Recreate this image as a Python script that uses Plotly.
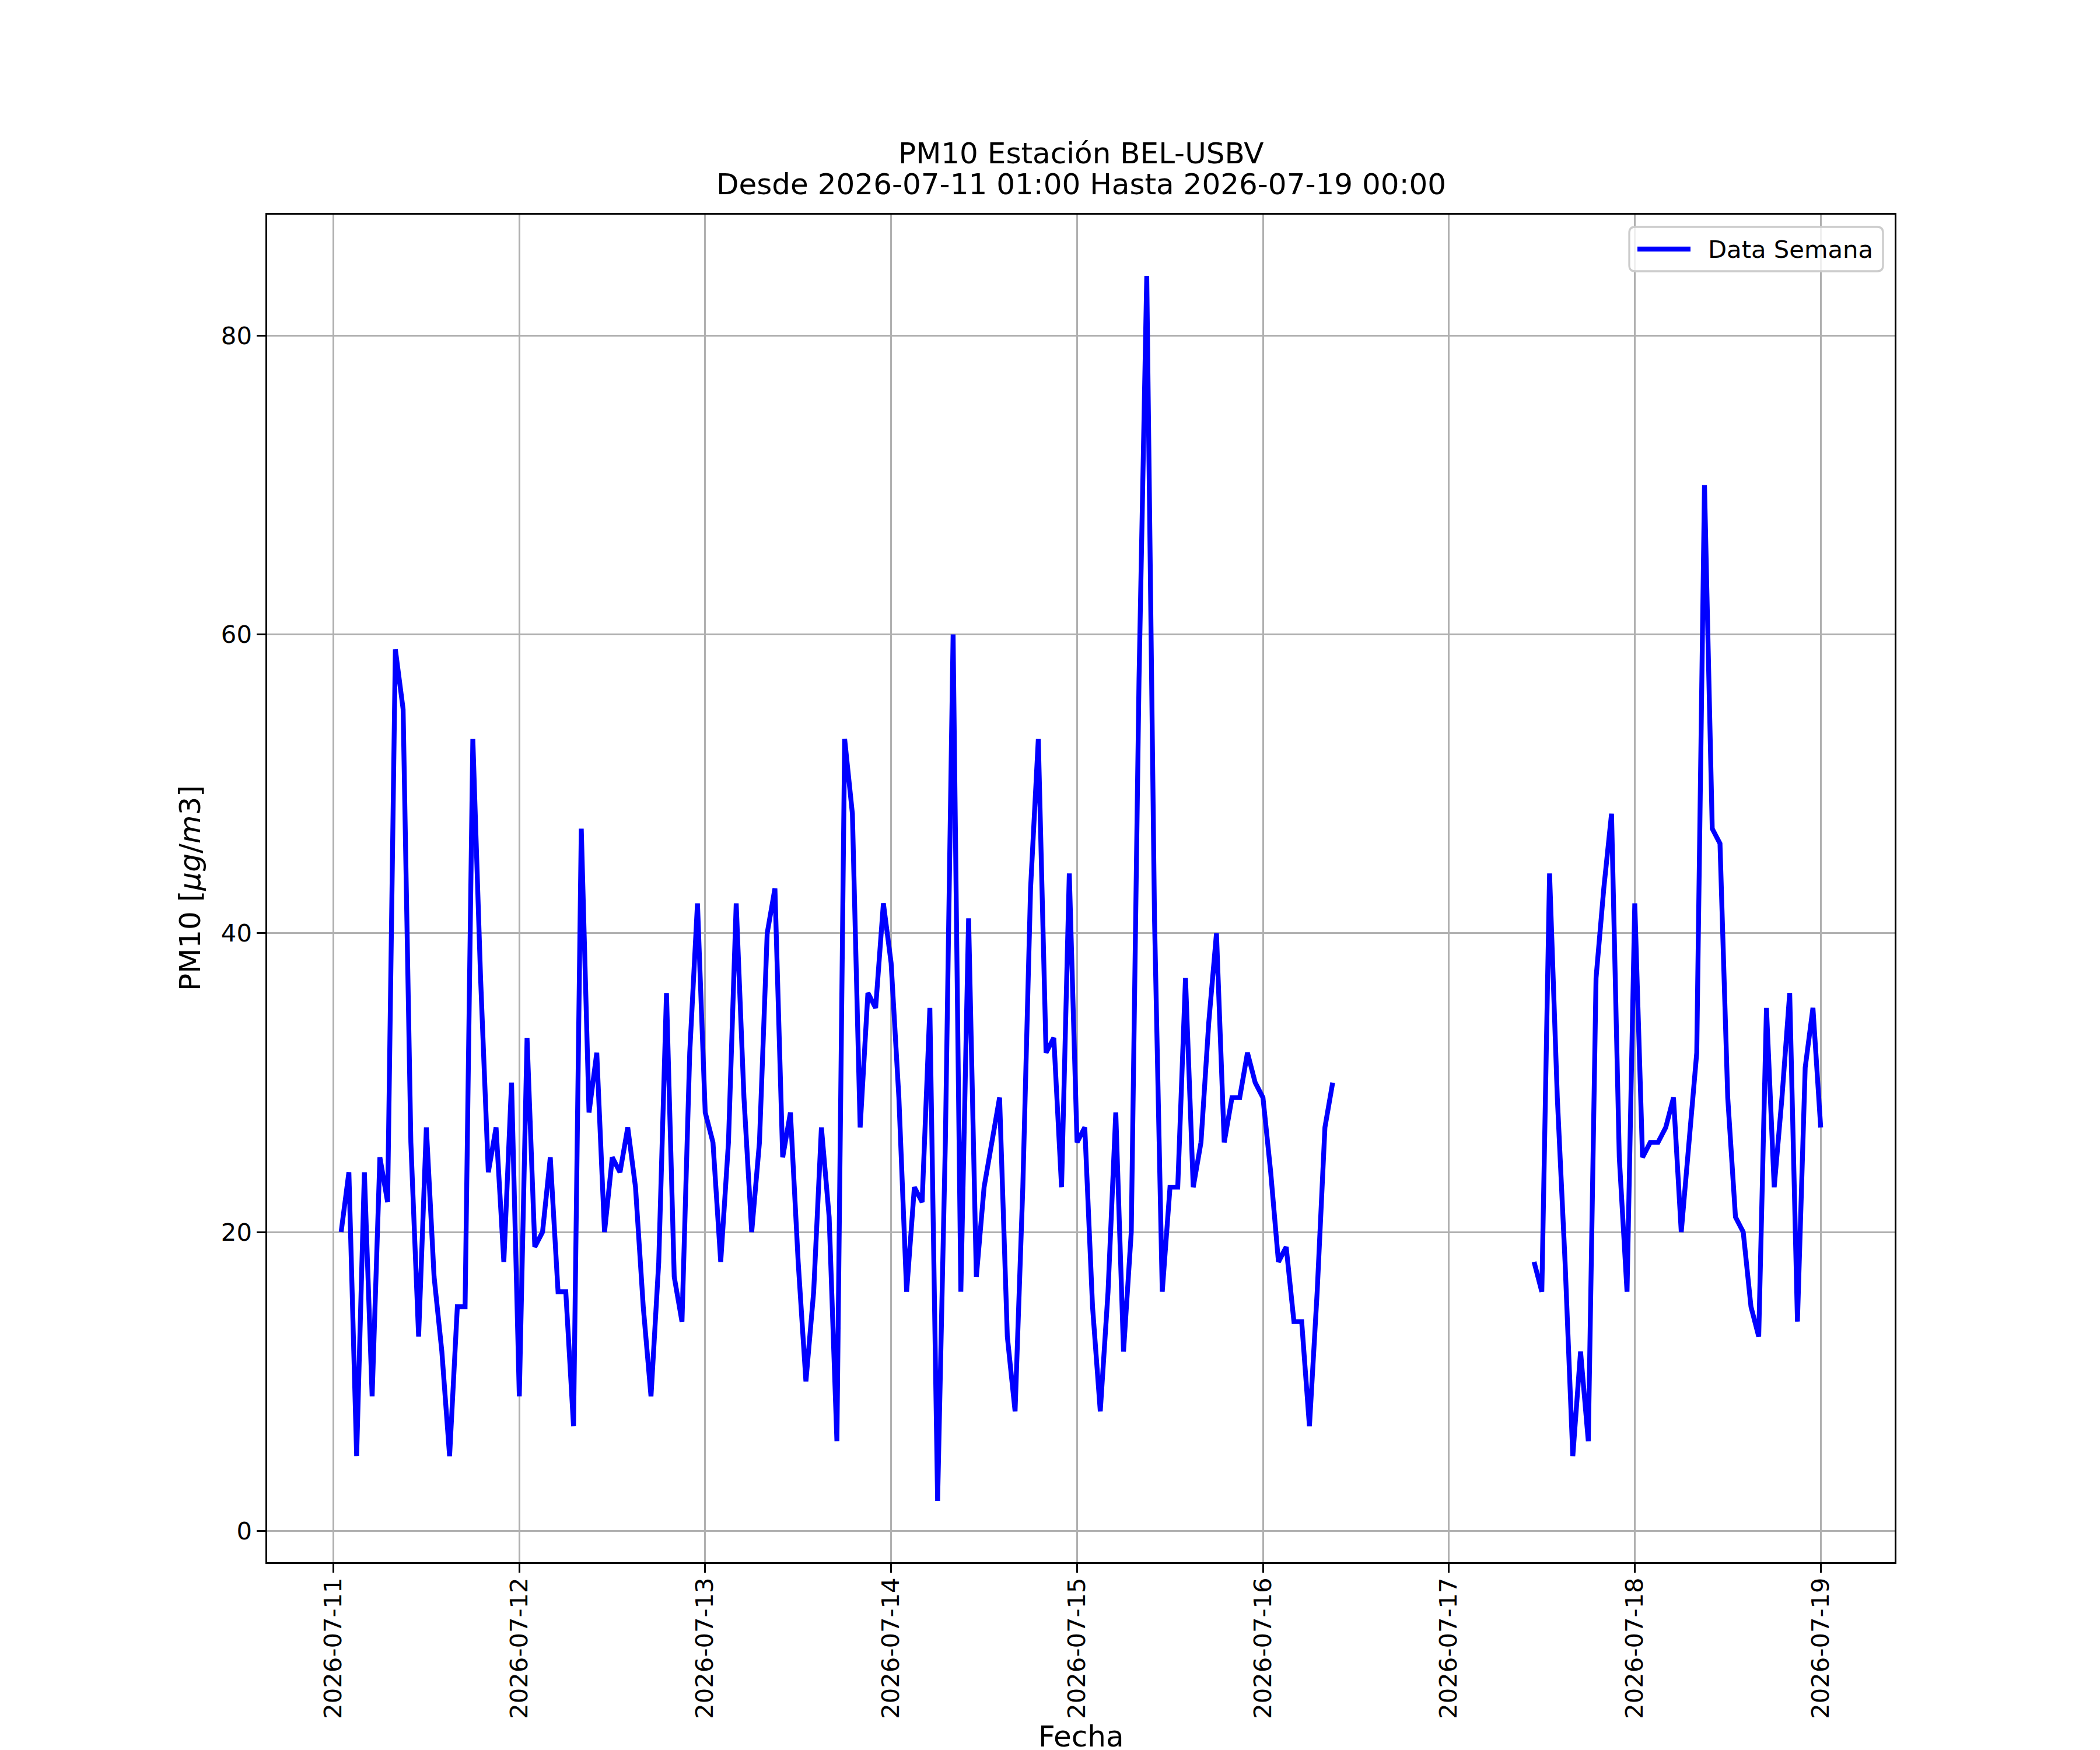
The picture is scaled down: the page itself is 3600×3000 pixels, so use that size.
import pandas as pd
import plotly.graph_objects as go

# Hourly PM10 values, each list = hours 01:00 .. 24:00 of the given day
d_0711 = [20, 24, 5, 24, 9, 25, 22, 59, 55, 26, 13, 27, 17, 12, 5, 15, 15, 53, 37, 24, 27, 18, 30, 9]
d_0712 = [33, 19, 20, 25, 16, 16, 7, 47, 28, 32, 20, 25, 24, 27, 23, 15, 9, 18, 36, 17, 14, 32, 42, 28]
d_0713 = [26, 18, 26, 42, 29, 20, 26, 40, 43, 25, 28, 18, 10, 16, 27, 21, 6, 53, 48, 27, 36, 35, 42, 38]
d_0714 = [29, 16, 23, 22, 35, 2, 26, 60, 16, 41, 17, 23, 26, 29, 13, 8, 23, 43, 53, 32, 33, 23, 44, 26]
d_0715 = [27, 15, 8, 16, 28, 12, 20, 57, 84, 41, 16, 23, 23, 37, 23, 26, 34, 40, 26, 29, 29, 32, 30, 29]
d_0716 = [24, 18, 19, 14, 14, 7, 16, 27, 30] + [None] * 15
d_0717 = [None] * 10 + [18, 16, 44, 29, 18, 5, 12, 6, 37, 43, 48, 25, 16, 42]
d_0718 = [25, 26, 26, 27, 29, 20, 26, 32, 70, 47, 46, 29, 21, 20, 15, 13, 35, 23, 29, 36, 14, 31, 35, 27]

values = d_0711 + d_0712 + d_0713 + d_0714 + d_0715 + d_0716 + d_0717 + d_0718
times = pd.date_range("2026-07-11 01:00", periods=len(values), freq="h")

tick_dates = pd.date_range("2026-07-11", "2026-07-19", freq="D")
tick_labels = [d.strftime("%Y-%m-%d") for d in tick_dates]
y_ticks = [0, 20, 40, 60, 80]

series_name = "Data Semana"
title_line1 = "PM10 Estación BEL-USBV"
title_line2 = "Desde 2026-07-11 01:00 Hasta 2026-07-19 00:00"

FONT = "DejaVu Sans"
W, H = 3600, 3000
L, R, T, B = 450, 3240, 360, 2670
PW, PH = R - L, B - T
TICK = 41.7
LABEL = 50
LW = 3.3
BLUE = "#0000ff"

fig = go.Figure()
fig.add_trace(go.Scatter(
    x=times, y=values, mode="lines", name=series_name,
    line=dict(color=BLUE, width=8.3), connectgaps=False, showlegend=False,
))


def py(p):
    return (B - p) / PH


def px(p):
    return (p - L) / PW


fig.update_layout(
    width=W, height=H,
    margin=dict(l=L, r=W - R, t=T, b=H - B, autoexpand=False),
    paper_bgcolor="white", plot_bgcolor="white",
    font=dict(family=FONT, size=TICK, color="black"),
    showlegend=False,
    xaxis=dict(
        type="date",
        range=["2026-07-10 15:27", "2026-07-19 09:33"],
        tickvals=list(tick_dates), ticktext=tick_labels,
        tickangle=-90,
        ticklabelstandoff=-8,
        showgrid=True, gridcolor="#b0b0b0", gridwidth=LW,
        showline=True, linecolor="black", linewidth=LW, mirror=True,
        ticks="outside", ticklen=14.6, tickwidth=LW, tickcolor="black",
        tickfont=dict(family=FONT, size=TICK, color="black"),
        zeroline=False, automargin=False,
    ),
    yaxis=dict(
        range=[-2.1, 88.1],
        tickvals=y_ticks, ticktext=[str(v) for v in y_ticks],
        showgrid=True, gridcolor="#b0b0b0", gridwidth=LW,
        showline=True, linecolor="black", linewidth=LW, mirror=True,
        ticks="outside", ticklen=14.6, tickwidth=LW, tickcolor="black",
        tickfont=dict(family=FONT, size=TICK, color="black"),
        zeroline=False, automargin=False,
    ),
)

# Legend box (matplotlib-style, rounded corners)
bx0, bx1, by0, by1, rad = 2785, 3220, 381, 457, 10
path = (
    f"M {px(bx0 + rad)},{py(by0)} L {px(bx1 - rad)},{py(by0)} "
    f"Q {px(bx1)},{py(by0)} {px(bx1)},{py(by0 + rad)} "
    f"L {px(bx1)},{py(by1 - rad)} Q {px(bx1)},{py(by1)} {px(bx1 - rad)},{py(by1)} "
    f"L {px(bx0 + rad)},{py(by1)} Q {px(bx0)},{py(by1)} {px(bx0)},{py(by1 - rad)} "
    f"L {px(bx0)},{py(by0 + rad)} Q {px(bx0)},{py(by0)} {px(bx0 + rad)},{py(by0)} Z"
)
fig.add_shape(type="path", path=path, xref="paper", yref="paper",
              fillcolor="rgba(255,255,255,0.8)", line=dict(color="#cccccc", width=LW),
              layer="above")
ly = (by0 + by1) / 2
fig.add_shape(type="line", xref="paper", yref="paper",
              x0=px(2799), x1=px(2890), y0=py(ly), y1=py(ly),
              line=dict(color=BLUE, width=8.3), layer="above")
fig.add_annotation(text=series_name, xref="paper", yref="paper", x=px(2918), y=py(ly),
                   xanchor="left", yanchor="middle", showarrow=False,
                   font=dict(family=FONT, size=TICK, color="black"))

fig.add_annotation(text=title_line1, xref="paper", yref="paper", x=0.5, y=py(255),
                   xanchor="center", yanchor="middle", showarrow=False,
                   font=dict(family=FONT, size=LABEL, color="black"))
fig.add_annotation(text=title_line2, xref="paper", yref="paper", x=0.5, y=py(308),
                   xanchor="center", yanchor="middle", showarrow=False,
                   font=dict(family=FONT, size=LABEL, color="black"))
fig.add_annotation(text="Fecha", xref="paper", yref="paper", x=0.5, y=py(2969),
                   xanchor="center", yanchor="middle", showarrow=False,
                   font=dict(family=FONT, size=LABEL, color="black"))
fig.add_annotation(text="PM10 [<i>μg</i>/<i>m</i>3]", xref="paper", yref="paper",
                   x=px(318), y=0.5, xanchor="center", yanchor="middle",
                   textangle=-90, showarrow=False,
                   font=dict(family=FONT, size=LABEL, color="black"))

fig.write_html("out.html")
